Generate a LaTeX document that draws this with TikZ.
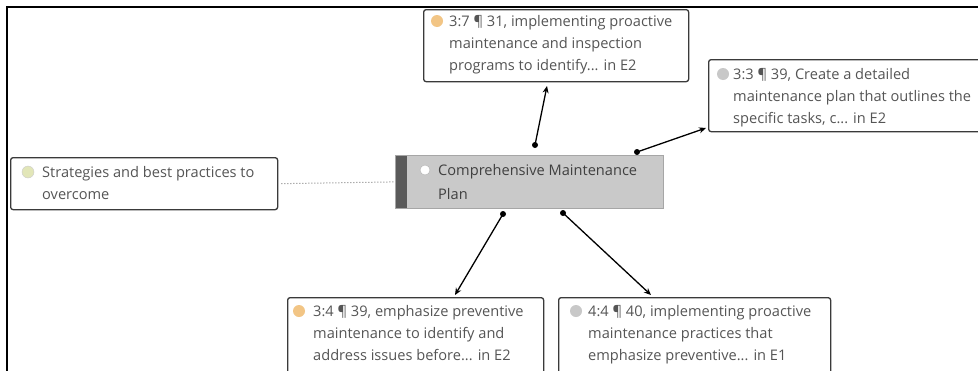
\documentclass[tikz,border=0pt]{standalone}
\usepackage{fontspec}
\setmainfont{Open Sans}
\usetikzlibrary{arrows.meta}
\definecolor{txt}{HTML}{555555}
\definecolor{bordc}{HTML}{3A3A3A}
\definecolor{icoorange}{HTML}{F2C585}
\definecolor{icogray}{HTML}{C8C8C8}
\definecolor{icogreen}{HTML}{E2E6B8}
\definecolor{cfill}{HTML}{C9C9C9}
\definecolor{cbar}{HTML}{5A5A5A}
\tikzset{
  box/.style={draw=bordc, line width=1.3pt, rounded corners=2.5pt, fill=white, anchor=north west, inner sep=0pt},
  lbl/.style={anchor=north west, inner sep=0pt, align=left, text=txt, font=\fontsize{14.6}{22}\selectfont},
  ico/.style={circle, inner sep=0pt, minimum size=12pt},
  conn/.style={line width=1.3pt, -{Stealth[length=7pt,width=6pt]}},
  dotsrc/.style={circle, fill=black, inner sep=0pt, minimum size=6pt}
}
\begin{document}
\begin{tikzpicture}[x=1pt,y=-1pt]
\useasboundingbox (0,0) rectangle (978,370);
\fill[white] (0,0) rectangle (978,370);
% frame
\draw[line width=2pt] (7,372) -- (7,7) -- (980,7);
% boxes
\node[box, minimum width=265pt, minimum height=72pt] (top) at (423,9) {};
\node[box, minimum width=280pt, minimum height=72pt] (rt) at (708,59) {};
\node[box, minimum width=267pt, minimum height=52pt] (lf) at (10,157) {};
\node[box, minimum width=256pt, minimum height=80pt] (bl) at (287,297) {};
\node[box, minimum width=272pt, minimum height=80pt] (br) at (558,297) {};
% center
\node[draw=gray!70, line width=0.8pt, fill=cfill, anchor=north west, minimum width=268pt, minimum height=53pt, inner sep=0pt] (ctr) at (395,155) {};
\fill[cbar] (395.5,155.5) rectangle (407,207.5);
% icons
\node[ico, fill=icoorange] (i1) at (437,21) {};
\node[ico, fill=icogray] (i2) at (723,74) {};
\node[ico, fill=icogreen, draw=gray!40] (i3) at (28,172) {};
\node[ico, fill=white, draw=gray!60, minimum size=10pt] (i4) at (425,170) {};
\node[ico, fill=icoorange] (i5) at (299,311) {};
\node[ico, fill=icogray] (i6) at (576,311) {};
% texts
\node[lbl] (t1) at (449,15) {3:7 ¶ 31, implementing proactive\\maintenance and inspection\\programs to identify... in E2};
\node[lbl] (t2) at (733,68) {3:3 ¶ 39, Create a detailed\\maintenance plan that outlines the\\specific tasks, c... in E2};
\node[lbl] (t3) at (42,166.5) {Strategies and best practices to\\overcome};
\node[lbl, text=black!75, font=\fontsize{14.6}{24}\selectfont] (t4) at (438,164.5) {Comprehensive Maintenance\\Plan};
\node[lbl] (t5) at (313,305.5) {3:4 ¶ 39, emphasize preventive\\maintenance to identify and\\address issues before... in E2};
\node[lbl] (t6) at (588,305.5) {4:4 ¶ 40, implementing proactive\\maintenance practices that\\emphasize preventive... in E1};
% connector anchors
\coordinate (s1) at (535,145);
\coordinate (s2) at (637,152);
\coordinate (s3) at (503,214);
\coordinate (s4) at (563,213);
\coordinate (e1) at (547,86);
\coordinate (e2) at (706,128);
\coordinate (e3) at (455,295);
\coordinate (e4) at (651,295);
\draw[conn] (s1) -- (e1);
\draw[conn] (s2) -- (e2);
\draw[conn] (s3) -- (e3);
\draw[conn] (s4) -- (e4);
\foreach \s in {s1,s2,s3,s4} \node[dotsrc] at (\s) {};
\draw[gray, line width=1pt, dotted] (lf.east) ++(3,0) -- (ctr.west);
\end{tikzpicture}
\end{document}
